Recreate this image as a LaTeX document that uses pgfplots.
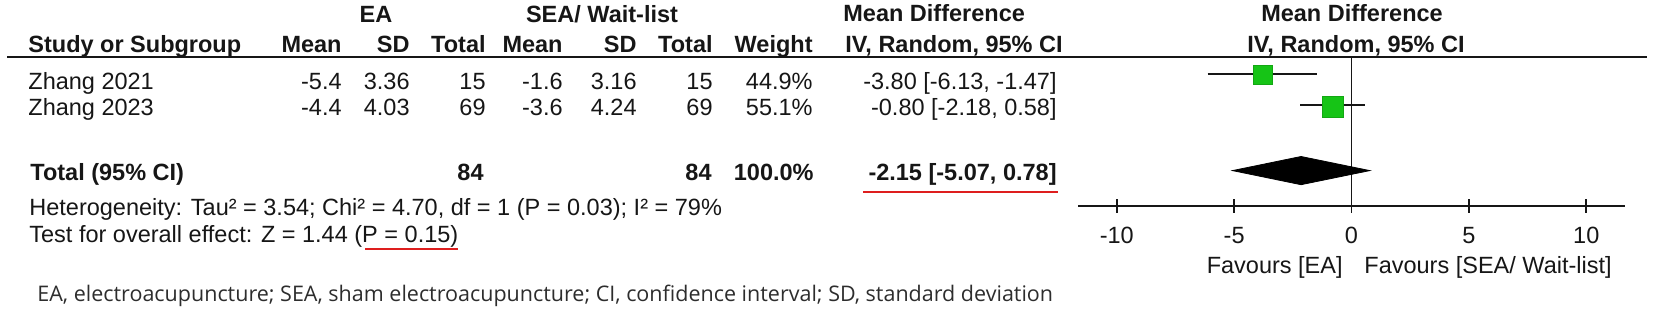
\documentclass[border=0pt]{standalone}
\usepackage{pgfplots}
\pgfplotsset{compat=1.18}
\usepackage{fontspec}
\setmainfont{Liberation Sans}
\newfontfamily\notefont{Open Sans}
\definecolor{sqgreen}{RGB}{22,196,22}
\definecolor{txt}{RGB}{22,22,22}
\definecolor{notec}{RGB}{45,45,45}
\definecolor{uline}{RGB}{222,30,30}
\begin{document}
\fontsize{11.75}{14}\selectfont
\begin{tikzpicture}
\path[use as bounding box] (0pt,0pt) rectangle (827pt,-157pt);
\begin{axis}[
  at={(539pt,-103pt)}, anchor=south west,
  scale only axis, width=273.5pt, height=74.5pt,
  xmin=-11.65, xmax=11.65, ymin=-206, ymax=-57,
  clip=false,
  axis x line*=bottom, axis y line=none,
  axis line style={line width=0.8pt, draw=txt},
  xtick={-10,-5,0,5,10},
  xticklabels={-10,-5,0,5,10},
  tick align=center,
  major tick length=7pt,
  tick style={line width=0.8pt, draw=txt},
  xticklabel style={font=\fontsize{11.75}{14}\selectfont, text=txt, inner sep=0pt, anchor=north, yshift=-7pt},
]
% line of no effect
\addplot[txt, line width=0.8pt] coordinates {(0,-57) (0,-206)};
% confidence intervals
\addplot[txt, line width=0.9pt] coordinates {(-6.13,-74) (-1.47,-74)};
\addplot[txt, line width=0.9pt] coordinates {(-2.18,-105) (0.58,-105)};
% study estimates
\addplot[only marks, mark=square*, mark size=4.75pt, mark options={fill=sqgreen, draw=sqgreen!85!black, line width=0.3pt}] coordinates {(-3.80,-75)};
\addplot[only marks, mark=square*, mark size=5.25pt, mark options={fill=sqgreen, draw=sqgreen!85!black, line width=0.3pt}] coordinates {(-0.80,-106.5)};
% pooled estimate
\addplot[fill=black, draw=black] coordinates {(-5.07,-170.6) (-2.15,-156.5) (0.78,-170.6) (-2.15,-184.7)} -- cycle;
\end{axis}
\begin{scope}[x=0.5pt,y=-0.5pt, every node/.style={inner sep=0pt, text=txt}]
\draw[txt, line width=0.8pt] (7,57) -- (1647,57);
% header row 1
\node[anchor=base, font=\bfseries] at (376,23) {EA};
\node[anchor=base, font=\bfseries] at (602,23) {SEA/ Wait-list};
\node[anchor=base west, font=\bfseries] at (843,22) {Mean Difference};
\node[anchor=base, font=\bfseries] at (1352,22) {Mean Difference};
% header row 2
\node[anchor=base west, font=\bfseries] at (28,53) {Study or Subgroup};
\node[anchor=base east, font=\bfseries] at (342,53) {Mean};
\node[anchor=base east, font=\bfseries] at (410,53) {SD};
\node[anchor=base east, font=\bfseries] at (486,53) {Total};
\node[anchor=base east, font=\bfseries] at (563,53) {Mean};
\node[anchor=base east, font=\bfseries] at (637,53) {SD};
\node[anchor=base east, font=\bfseries] at (713,53) {Total};
\node[anchor=base east, font=\bfseries] at (813,53) {Weight};
\node[anchor=base west, font=\bfseries] at (845,53) {IV, Random, 95\% CI};
\node[anchor=base, font=\bfseries] at (1356,53) {IV, Random, 95\% CI};
% study rows
\node[anchor=base west] at (28,90) {Zhang 2021};
\node[anchor=base east] at (342,90) {-5.4};
\node[anchor=base east] at (410,90) {3.36};
\node[anchor=base east] at (486,90) {15};
\node[anchor=base east] at (563,90) {-1.6};
\node[anchor=base east] at (637,90) {3.16};
\node[anchor=base east] at (713,90) {15};
\node[anchor=base east] at (813,90) {44.9\%};
\node[anchor=base east] at (1057,90) {-3.80 [-6.13, -1.47]};
\node[anchor=base west] at (28,116) {Zhang 2023};
\node[anchor=base east] at (342,116) {-4.4};
\node[anchor=base east] at (410,116) {4.03};
\node[anchor=base east] at (486,116) {69};
\node[anchor=base east] at (563,116) {-3.6};
\node[anchor=base east] at (637,116) {4.24};
\node[anchor=base east] at (713,116) {69};
\node[anchor=base east] at (813,116) {55.1\%};
\node[anchor=base east] at (1057,116) {-0.80 [-2.18, 0.58]};
% total row
\node[anchor=base west, font=\bfseries] at (30,181) {Total (95\% CI)};
\node[anchor=base east, font=\bfseries] at (484,181) {84};
\node[anchor=base east, font=\bfseries] at (712,181) {84};
\node[anchor=base east, font=\bfseries] at (814,181) {100.0\%};
\node[anchor=base east, font=\bfseries] at (1057,181) {-2.15 [-5.07, 0.78]};
\draw[uline, line width=1pt] (863,192) -- (1058,192);
\node[anchor=base west] at (29,216) {Heterogeneity: Tau² = 3.54; Chi² = 4.70, df = 1 (P = 0.03); I² = 79\%};
\node[anchor=base west] at (29,243) {Test for overall effect: Z = 1.44 (P = 0.15)};
\draw[uline, line width=1pt] (365,249) -- (458,249);
% favours labels
\node[anchor=base east] at (1343,274) {Favours [EA]};
\node[anchor=base west] at (1364,274) {Favours [SEA/ Wait-list]};
% footnote
\node[anchor=base west, text=notec, font=\notefont\fontsize{10.75}{13}\selectfont] at (37,302) {EA, electroacupuncture; SEA, sham electroacupuncture; CI, confidence interval; SD, standard deviation};
\end{scope}
\end{tikzpicture}
\end{document}
